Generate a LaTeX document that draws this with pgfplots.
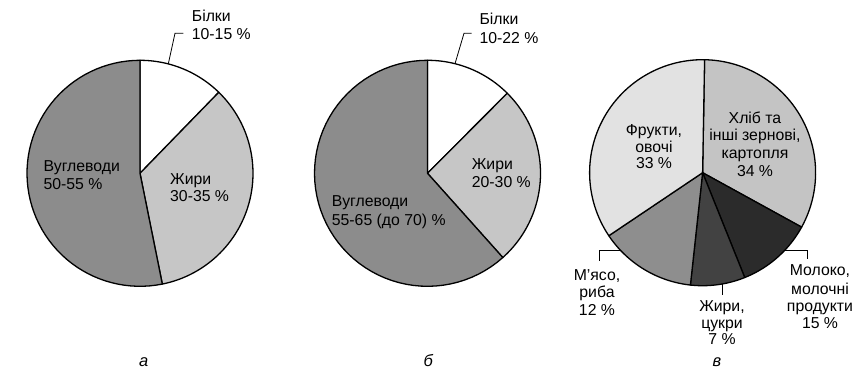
\documentclass[border=0pt]{standalone}
\usepackage{fontspec}
\setmainfont{Liberation Sans}
\usepackage{pgfplots}
\pgfplotsset{compat=1.18}
\definecolor{cDark}{HTML}{8C8C8C}
\definecolor{cLight}{HTML}{C6C6C6}
\definecolor{cWhite}{HTML}{FFFFFF}
\definecolor{cFruit}{HTML}{E2E2E2}
\definecolor{cBread}{HTML}{C4C4C4}
\definecolor{cMilk}{HTML}{2B2B2B}
\definecolor{cFat}{HTML}{424242}
\definecolor{cMeat}{HTML}{8E8E8E}
\pgfplotsset{
  pieax/.style={at={(0,0)}, anchor=south west, scale only axis, x=1pt, y=1pt,
    hide axis, clip=false},
  slice/.style={draw=black, line width=1.3pt, line join=round, samples=60, data cs=polar, fill=#1},
  lead/.style={black, line width=0.8pt, no markers},
}
\newcommand{\R}{113}
\begin{document}
\begin{tikzpicture}[x=1pt,y=1pt]
\useasboundingbox (0,0) rectangle (857,373);
% ---- pie a: centre (140, 199.7)
\begin{axis}[pieax, xmin=-140, xmax=717, ymin=-199.7, ymax=173.3]
\addplot[slice=cWhite, domain=45.8:90] ({x},{\R}) -- (axis cs:0,0) -- cycle;
\addplot[slice=cLight, domain=-78.6:45.8] ({x},{\R}) -- (axis cs:0,0) -- cycle;
\addplot[slice=cDark, domain=90:281.4] ({x},{\R}) -- (axis cs:0,0) -- cycle;
\addplot[lead] coordinates {(28.3,109.4) (35,140) (43.3,140)};
\end{axis}
% ---- pie b: centre (427.5, 199.7)
\begin{axis}[pieax, xmin=-427.5, xmax=429.5, ymin=-199.7, ymax=173.3]
\addplot[slice=cWhite, domain=45.1:90] ({x},{\R}) -- (axis cs:0,0) -- cycle;
\addplot[slice=cLight, domain=-48.2:45.1] ({x},{\R}) -- (axis cs:0,0) -- cycle;
\addplot[slice=cDark, domain=90:311.8] ({x},{\R}) -- (axis cs:0,0) -- cycle;
\addplot[lead] coordinates {(27.5,109.6) (36.5,140) (44.2,140)};
\end{axis}
% ---- pie v: centre (702.6, 200.3)
\begin{axis}[pieax, xmin=-702.6, xmax=154.4, ymin=-200.3, ymax=172.7]
\addplot[slice=cBread, domain=-28.8:89] ({x},{\R}) -- (axis cs:0,0) -- cycle;
\addplot[slice=cMilk, domain=-68.1:-28.8] ({x},{\R}) -- (axis cs:0,0) -- cycle;
\addplot[slice=cFat, domain=-96.2:-68.1] ({x},{\R}) -- (axis cs:0,0) -- cycle;
\addplot[slice=cMeat, domain=-146.1:-96.2] ({x},{\R}) -- (axis cs:0,0) -- cycle;
\addplot[slice=cFruit, domain=89:213.9] ({x},{\R}) -- (axis cs:0,0) -- cycle;
\addplot[lead] coordinates {(-81.7,-78) (-103.6,-78) (-103.6,-88)};
\addplot[lead] coordinates {(19.7,-111.3) (19.7,-122.3)};
\addplot[lead] coordinates {(81.9,-78) (105.1,-78) (105.1,-86.6)};
\end{axis}
% ---- labels
\tikzset{every node/.style={inner sep=0pt, font=\fontsize{15.8}{19}\selectfont}}
\node[anchor=base west] at (191.7,351.3) {Білки};
\node[anchor=base west] at (191.7,333) {10-15 \%};
\node[anchor=base west] at (43.3,201.3) {Вуглеводи};
\node[anchor=base west] at (43.3,183.7) {50-55 \%};
\node[anchor=base west] at (170,189) {Жири};
\node[anchor=base west] at (170,171.3) {30-35 \%};
\node[anchor=base, font=\fontsize{16.5}{19}\selectfont\itshape] at (143.7,7) {а};
\node[anchor=base west] at (479.3,348) {Білки};
\node[anchor=base west] at (479.3,329.7) {10-22 \%};
\node[anchor=base west] at (471.7,204) {Жири};
\node[anchor=base west] at (471.7,185.3) {20-30 \%};
\node[anchor=base west] at (331.7,166.3) {Вуглеводи};
\node[anchor=base west] at (331.7,148) {55-65 (до 70) \%};
\node[anchor=base, font=\fontsize{16.5}{19}\selectfont\itshape] at (428.3,7) {б};
\node[anchor=base] at (654,238) {Фрукти,};
\node[anchor=base] at (654,221) {овочі};
\node[anchor=base] at (654,204.5) {33 \%};
\node[anchor=base] at (755,249.7) {Хліб та};
\node[anchor=base] at (755,232.3) {інші зернові,};
\node[anchor=base] at (755,214.7) {картопля};
\node[anchor=base] at (755,197) {34 \%};
\node[anchor=base] at (597,93) {М’ясо,};
\node[anchor=base] at (597,75.5) {риба};
\node[anchor=base] at (597,58) {12 \%};
\node[anchor=base] at (722,61.5) {Жири,};
\node[anchor=base] at (722,45) {цукри};
\node[anchor=base] at (722,28.5) {7 \%};
\node[anchor=base] at (820,98) {Молоко,};
\node[anchor=base] at (820,79) {молочні};
\node[anchor=base] at (820,61.3) {продукти};
\node[anchor=base] at (820,44.7) {15 \%};
\node[anchor=base, font=\fontsize{16.5}{19}\selectfont\itshape] at (717,7) {в};
\end{tikzpicture}
\end{document}
